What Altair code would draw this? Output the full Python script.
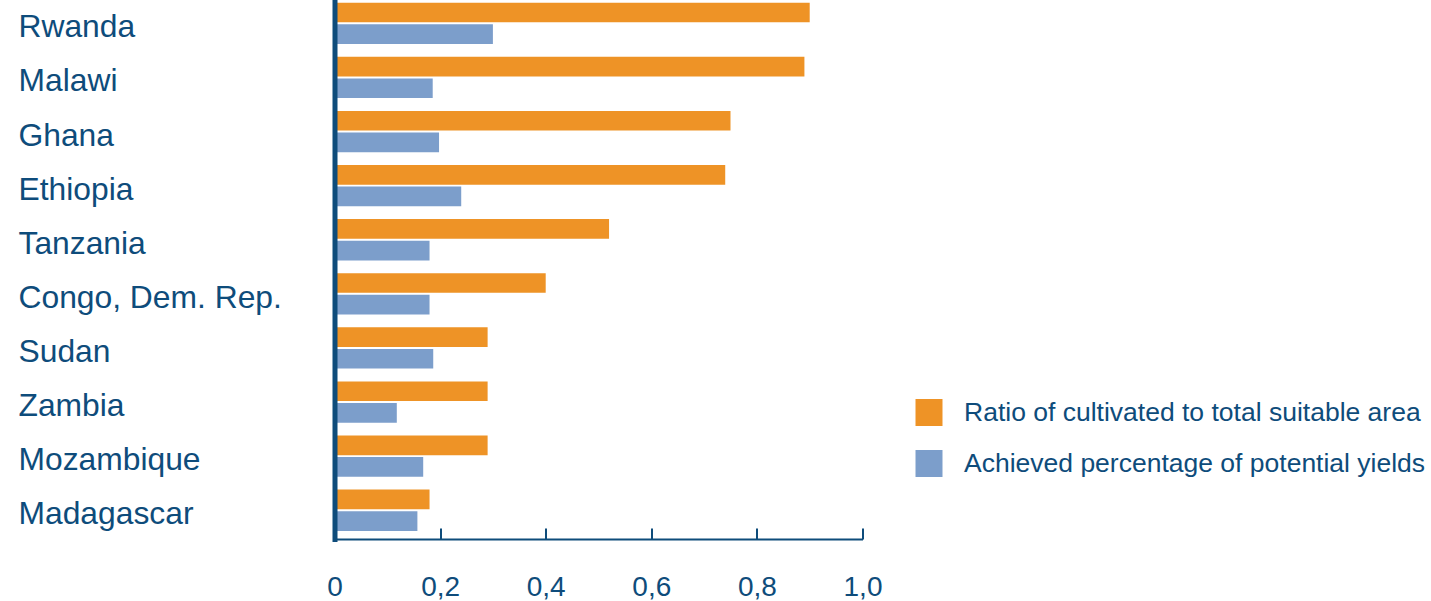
import altair as alt
import pandas as pd

countries = ["Rwanda", "Malawi", "Ghana", "Ethiopia", "Tanzania",
             "Congo, Dem. Rep.", "Sudan", "Zambia", "Mozambique", "Madagascar"]
ratio_cultivated = [0.90, 0.89, 0.75, 0.74, 0.52, 0.40, 0.29, 0.29, 0.29, 0.18]
achieved_yields = [0.30, 0.186, 0.198, 0.24, 0.18, 0.18, 0.187, 0.118, 0.168, 0.157]
series_names = ["Ratio of cultivated to total suitable area",
                "Achieved percentage of potential yields"]
series_colors = ["#EE9326", "#7C9ECB"]
x_ticks = [0, 0.2, 0.4, 0.6, 0.8, 1.0]

rows = []
for c, r, a in zip(countries, ratio_cultivated, achieved_yields):
    rows.append({"country": c, "series": series_names[0], "value": r})
    rows.append({"country": c, "series": series_names[1], "value": a})
df = pd.DataFrame(rows)
ticks_df = pd.DataFrame({"t": x_ticks})

TEXT = "#0E4C7B"
FONT = "Liberation Sans"
W, H = 528, 539

label_expr = "datum.value == 0 ? '0' : replace(format(datum.value, '.1f'), '.', ',')"

bars = alt.Chart(df).mark_bar().encode(
    x=alt.X("value:Q",
            scale=alt.Scale(domain=[0, 1], nice=False, zero=True),
            axis=alt.Axis(title=None, orient="bottom", values=x_ticks, labelExpr=label_expr,
                          ticks=False, tickSize=0, labelPadding=56, labelBaseline="alphabetic",
                          labelFontSize=28, labelColor=TEXT, labelFont=FONT,
                          domainColor=TEXT, domainWidth=2, grid=False, labelFlush=False)),
    y=alt.Y("country:N", sort=countries,
            scale=alt.Scale(paddingInner=0.237, paddingOuter=0.1, align=0.25),
            axis=alt.Axis(title=None, orient="left", labelAlign="left", labelBaseline="middle",
                          labelPadding=316.5, labelOffset=4, ticks=False, tickSize=0,
                          labelFontSize=31.8,
                          labelColor=TEXT, labelFont=FONT, domainColor=TEXT, domainWidth=5,
                          domainCap="square", zindex=1, labelLimit=400, grid=False)),
    yOffset=alt.YOffset("series:N", sort=series_names, scale=alt.Scale(paddingInner=0.09)),
    color=alt.Color("series:N", sort=series_names,
                    scale=alt.Scale(domain=series_names, range=series_colors),
                    legend=alt.Legend(title=None, orient="none", legendX=581, legendY=399,
                                      symbolType="square", symbolSize=729, symbolStrokeWidth=0,
                                      symbolOpacity=1,
                                      labelFontSize=26.5, labelColor=TEXT, labelFont=FONT,
                                      labelOffset=21.5, rowPadding=24, padding=0,
                                      labelLimit=700, direction="vertical")),
)

tick_layer = alt.Chart(ticks_df).mark_point(opacity=0).encode(
    x=alt.X("t:Q",
            axis=alt.Axis(title=None, orient="top", offset=-H, labels=False, domain=False,
                          ticks=True, tickSize=11, tickWidth=2, tickColor=TEXT,
                          values=x_ticks, grid=False)),
)

chart = alt.layer(bars, tick_layer).resolve_axis(x="independent").properties(
    width=W, height=H,
    background="white",
    autosize=alt.AutoSizeParams(type="none"),
    padding={"left": 334.5, "top": 0, "right": 568.5, "bottom": 62},
).configure_view(strokeWidth=0, stroke="transparent")

chart.save("out.html", embed_options={"renderer": "svg", "actions": False})
